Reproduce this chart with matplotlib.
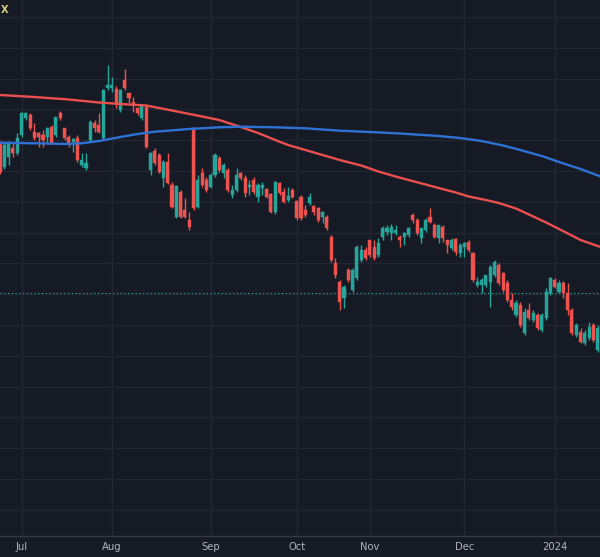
import matplotlib
matplotlib.use('Agg')
import matplotlib.pyplot as plt
import numpy as np

# ---- OHLC data (one bar per trading day) ----
opens = [45.7, 43.3, 44.3, 45.2, 44.7, 46.5, 48.2, 48.5, 46.8, 46.7,
         46.5, 46.3, 47.3, 46.5, 48.7, 47.2, 46.3, 45.8, 46.2, 43.5,
         43.2, 46.0, 47.7, 47.5, 46.2, 51.2, 51.2, 51.1, 49.0, 52.0,
         50.7, 49.8, 49.2, 48.2, 49.3, 43.0, 44.9, 44.5, 42.2, 43.8,
         41.5, 38.3, 40.8, 39.0, 38.0, 47.2, 39.3, 42.7, 42.0, 41.3,
         42.5, 44.2, 42.7, 43.0, 40.5, 41.0, 42.7, 42.2, 41.3, 42.0,
         40.3, 41.2, 41.1, 40.6, 38.8, 41.7, 40.8, 40.0, 41.0, 39.9,
         40.3, 39.0, 39.7, 39.4, 39.2, 38.3, 38.3, 36.3, 33.7, 31.8,
         30.2, 33.0, 31.0, 32.2, 34.0, 35.0, 36.0, 35.3, 34.5, 36.3,
         36.8, 36.7, 36.7, 36.3, 36.3, 36.5, 38.5, 38.0, 36.2, 37.0,
         38.3, 37.5, 36.2, 37.3, 36.0, 35.2, 36.1, 34.7, 35.3, 35.8,
         34.7, 31.5, 31.5, 31.5, 31.8, 32.5, 33.5, 32.7, 31.7, 30.0,
         28.5, 29.5, 26.7, 29.0, 28.0, 28.5, 27.0, 28.2, 30.7, 32.0,
         30.8, 31.7, 30.7, 29.0, 26.5, 26.8, 25.7, 26.2, 27.5, 25.0]
highs = [45.9, 45.7, 45.9, 45.7, 46.7, 48.8, 48.8, 48.7, 47.7, 46.8,
         47.0, 47.3, 47.5, 48.3, 48.9, 47.2, 46.5, 46.2, 46.5, 44.7,
         44.7, 48.0, 48.0, 48.7, 51.1, 53.5, 52.3, 51.4, 51.1, 53.1,
         50.7, 50.3, 49.3, 49.4, 49.4, 44.8, 45.2, 44.7, 44.0, 44.7,
         41.8, 41.5, 41.0, 40.2, 38.8, 47.2, 42.5, 43.2, 42.3, 42.7,
         44.7, 44.4, 43.7, 43.2, 41.5, 43.2, 42.8, 42.5, 42.0, 42.3,
         41.7, 41.8, 41.2, 40.7, 41.9, 41.8, 41.2, 41.3, 41.2, 40.0,
         40.5, 39.5, 40.7, 39.5, 39.3, 38.9, 38.5, 36.5, 34.2, 32.0,
         31.5, 33.2, 33.2, 35.5, 35.5, 35.3, 36.0, 36.0, 36.2, 37.4,
         37.5, 37.6, 37.5, 36.5, 36.8, 37.3, 38.7, 38.2, 37.2, 38.2,
         39.2, 37.7, 37.5, 37.5, 36.0, 36.2, 36.2, 35.7, 35.8, 36.0,
         34.8, 32.3, 32.2, 32.5, 33.5, 34.0, 33.7, 32.8, 32.0, 30.7,
         30.0, 29.8, 29.2, 29.7, 29.0, 28.7, 28.7, 31.2, 32.3, 32.2,
         32.0, 31.9, 31.7, 29.2, 27.7, 27.2, 27.0, 27.8, 27.7, 27.5]
lows = [42.6, 43.1, 43.5, 44.3, 44.5, 46.3, 48.0, 47.0, 46.0, 45.3,
        45.3, 45.8, 45.6, 46.3, 48.0, 46.0, 45.3, 44.8, 43.8, 43.3,
        43.0, 45.8, 46.8, 46.7, 46.1, 51.0, 50.8, 49.2, 48.8, 51.0,
        49.7, 48.8, 48.5, 48.0, 45.2, 42.5, 43.5, 42.7, 41.3, 41.6,
        39.2, 38.2, 38.2, 38.2, 37.0, 39.0, 39.2, 41.3, 40.8, 41.2,
        42.3, 42.8, 42.2, 40.8, 40.2, 40.8, 42.0, 40.3, 40.5, 40.6,
        39.8, 40.5, 40.2, 38.7, 38.6, 40.5, 39.7, 39.8, 40.2, 38.0,
        38.0, 38.3, 39.5, 38.5, 37.8, 37.7, 37.0, 33.8, 32.2, 29.0,
        29.2, 31.8, 30.8, 32.0, 33.8, 34.0, 34.3, 34.0, 34.3, 36.0,
        36.5, 36.0, 36.5, 35.3, 35.5, 36.3, 37.7, 36.5, 35.7, 36.8,
        37.7, 36.2, 35.7, 35.8, 34.7, 35.0, 34.5, 34.3, 34.3, 34.8,
        31.8, 31.3, 30.7, 31.3, 29.3, 32.3, 31.5, 30.8, 29.8, 29.0,
        28.3, 27.3, 26.5, 28.0, 27.8, 27.0, 26.8, 28.0, 30.5, 31.2,
        30.7, 30.2, 28.5, 26.5, 26.3, 25.7, 25.5, 26.0, 25.8, 24.8]
closes = [42.8, 45.5, 45.7, 44.7, 46.2, 48.7, 48.7, 47.2, 46.2, 46.3,
          46.0, 47.2, 45.7, 48.3, 48.2, 46.2, 45.7, 46.1, 44.0, 44.0,
          43.7, 47.8, 47.2, 46.8, 51.0, 51.5, 51.5, 49.7, 51.0, 51.2,
          50.2, 49.5, 48.7, 49.4, 45.3, 44.7, 43.7, 42.8, 43.8, 41.7,
          39.3, 41.4, 38.3, 38.3, 37.3, 39.2, 42.0, 41.5, 41.0, 42.5,
          44.5, 43.0, 43.5, 41.0, 41.0, 42.5, 42.2, 40.7, 41.5, 40.8,
          41.5, 41.5, 40.3, 38.8, 41.8, 40.7, 39.8, 40.4, 40.3, 38.2,
          38.2, 38.5, 40.3, 38.8, 38.0, 38.8, 37.2, 34.0, 32.5, 29.8,
          31.3, 32.0, 33.0, 35.3, 35.0, 34.2, 34.5, 34.2, 35.7, 37.2,
          37.2, 37.3, 37.0, 36.0, 36.7, 37.2, 38.0, 36.7, 37.2, 38.0,
          37.8, 36.3, 37.5, 36.2, 35.5, 36.0, 34.8, 35.5, 35.7, 35.0,
          32.0, 31.8, 32.0, 32.5, 33.3, 33.8, 31.7, 31.0, 30.0, 29.3,
          29.7, 27.5, 28.8, 28.2, 28.7, 27.2, 28.5, 30.8, 32.2, 31.3,
          31.7, 30.7, 29.0, 26.7, 27.5, 25.8, 26.7, 27.3, 26.0, 27.2]

# ---- moving averages (read at sampled bars) ----
ma_red_idx = [0, 8, 16, 23, 28, 34, 40, 47, 51, 56, 60, 64, 67, 71, 75, 79,
              84, 88, 92, 95, 99, 102, 106, 109, 113, 116, 120, 123, 127,
              130, 133, 135, 138, 140]
ma_red_val = [50.5, 50.3, 50.05, 49.75, 49.6, 49.45, 48.95, 48.35, 48.0, 47.3,
              46.7, 46.0, 45.5, 45.0, 44.5, 44.0, 43.45, 42.85, 42.35, 42.0,
              41.55, 41.2, 40.75, 40.35, 40.0, 39.7, 39.15, 38.55, 37.75,
              37.1, 36.45, 36.0, 35.55, 35.25]
ma_blue_idx = [0, 8, 16, 19, 23, 28, 32, 36, 44, 51, 56, 64, 71, 79, 86, 93,
               102, 107, 112, 117, 121, 126, 130, 135, 140]
ma_blue_val = [45.73, 45.67, 45.6, 45.67, 45.9, 46.3, 46.6, 46.83, 47.1, 47.27,
               47.33, 47.27, 47.17, 46.93, 46.8, 46.65, 46.4, 46.2, 45.9, 45.45,
               45.0, 44.4, 43.8, 43.1, 42.3]

last_price = 30.7

month_labels = ['Jul', 'Aug', 'Sep', 'Oct', 'Nov', 'Dec', '2024']
month_idx = [5, 26, 49, 69, 86, 108, 129]

# ---- style ----
BG = '#161a25'
GRID = '#222632'
UP = '#26a69a'
DOWN = '#ef5350'

fig = plt.figure(figsize=(6.0, 5.57), dpi=100, facecolor=BG)
ax = fig.add_axes([0, 1 - 536 / 557, 1, 536 / 557])
ax.set_facecolor(BG)

n = len(opens)
x = np.arange(n)
o = np.array(opens); h = np.array(highs); l = np.array(lows); c = np.array(closes)
up = c >= o
colors = np.where(up, UP, DOWN)

ax.vlines(x, l, h, colors=colors, linewidth=1.0, zorder=3)
body_bottom = np.minimum(o, c)
body_h = np.maximum(np.abs(c - o), 0.08)
ax.bar(x, body_h, bottom=body_bottom, width=0.7, color=colors,
       edgecolor=colors, linewidth=0.3, zorder=4)

ax.plot(ma_red_idx, ma_red_val, color='#e9504f', linewidth=1.7, zorder=5,
        solid_capstyle='round', solid_joinstyle='round')
ax.plot(ma_blue_idx, ma_blue_val, color='#2f72d6', linewidth=1.7, zorder=5,
        solid_capstyle='round', solid_joinstyle='round')

ax.axhline(last_price, color=UP, linewidth=0.9, linestyle=(0, (1, 2)),
           zorder=2, alpha=0.9)

ax.set_xlim(0, 600 / 4.3)
ax.set_ylim(6.4, 60)

ax.set_yticks([58.3 - 3.08 * k for k in range(17)])
ax.set_xticks(month_idx)
ax.set_xticklabels(month_labels)
ax.grid(True, color=GRID, linewidth=1.0, zorder=0)
ax.tick_params(axis='x', length=0, pad=4, labelsize=7.2, labelcolor='#b2b5be')
ax.tick_params(axis='y', length=0, labelleft=False)

for s in ['top', 'left', 'right']:
    ax.spines[s].set_visible(False)
ax.spines['bottom'].set_color('#363a45')
ax.spines['bottom'].set_linewidth(1.0)

fig.text(0.002, 0.982, 'X', color='#d8cf6e', fontsize=7, fontweight='bold',
         va='center', ha='left')

fig.savefig('out.png', dpi=100, facecolor=BG)
